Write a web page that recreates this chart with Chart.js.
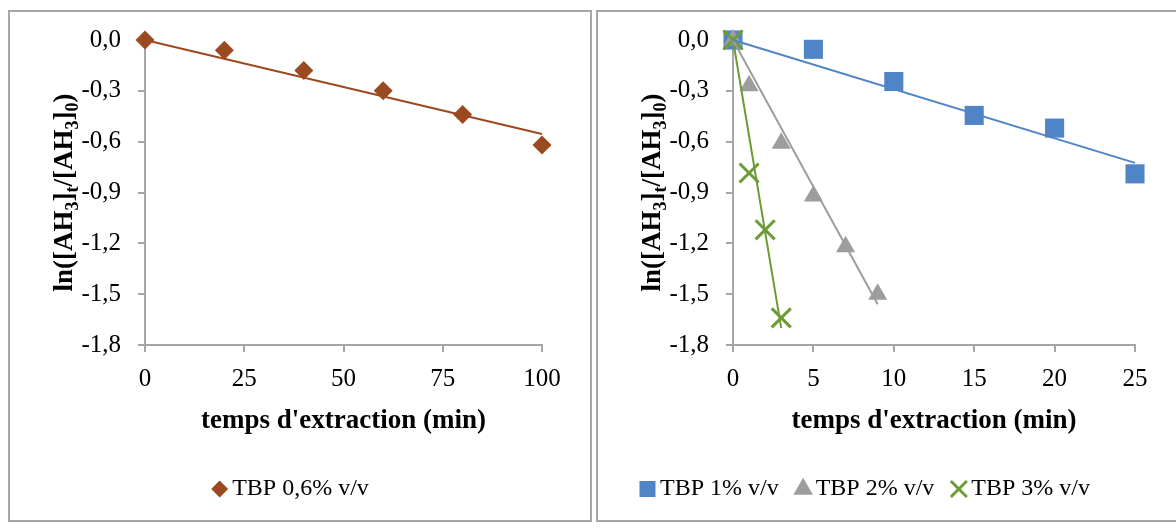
<!DOCTYPE html>
<html>
<head>
<meta charset="utf-8">
<script src="https://cdn.jsdelivr.net/npm/chart.js@4.4.1/dist/chart.umd.min.js"></script>
<style>
  body { margin: 0; background: #fff; }
  .panel { position: absolute; top: 10px; height: 508px; border: 2px solid #a6a6a6; background: #fff; }
  #panel-left { left: 8px; width: 580px; }
  #panel-right { left: 596px; width: 578px; }
</style>
</head>
<body>
<div class="panel" id="panel-left"><canvas id="chartLeft"></canvas></div>
<div class="panel" id="panel-right"><canvas id="chartRight"></canvas></div>
<script>
// TBP 0,6% v/v
const time06 = [0, 20, 40, 60, 80, 100]
const ln06 = [0, -0.06, -0.18, -0.30, -0.44, -0.62]
const trendTime06 = [0, 100]
const trendLn06 = [0, -0.555]

// TBP 1%, 2%, 3% v/v
const time1 = [0, 5, 10, 15, 20, 25]
const ln1 = [0, -0.055, -0.245, -0.445, -0.52, -0.79]
const trendTime1 = [0, 25]
const trendLn1 = [0, -0.725]

const time2 = [0, 1, 3, 5, 7, 9]
const ln2 = [0, -0.27, -0.61, -0.92, -1.22, -1.50]
const trendTime2 = [0, 9]
const trendLn2 = [0, -1.56]

const time3 = [0, 1, 2, 3]
const ln3 = [0, -0.785, -1.12, -1.64]
const trendTime3 = [0, 3]
const trendLn3 = [0, -1.70]

const labels = ['TBP 0,6% v/v', 'TBP 1% v/v', 'TBP 2% v/v', 'TBP 3% v/v']
const xTitle = "temps d'extraction (min)"
// [texte, indice?]
const yTitleParts = [['ln([AH', 0], ['3', 1], [']', 0], ['t', 1], ['/[AH', 0], ['3', 1], [']', 0], ['0', 1], [')', 0]]

const brown = '#9b4a20'
const blue = '#4f85c6'
const grey = '#9d9d9f'
const green = '#6f9a38'
const axisGrey = '#a6a6a6'
const serif = '"Liberation Serif", "Times New Roman", serif'

Chart.defaults.font.family = serif
Chart.defaults.color = '#000'

const pts = (xs, ys) => xs.map((x, i) => ({ x, y: ys[i] }))

// titre de l'axe Y avec indices
const yTitlePlugin = {
  id: 'yTitle',
  afterDraw(chart) {
    const { ctx, chartArea } = chart
    const big = 'bold 27px ' + serif
    const small = 'bold 18px ' + serif
    ctx.save()
    let total = 0
    yTitleParts.forEach(([t, sub]) => {
      ctx.font = sub ? small : big
      total += ctx.measureText(t).width
    })
    ctx.translate(53, (chartArea.top + chartArea.bottom) / 2)
    ctx.rotate(-Math.PI / 2)
    ctx.fillStyle = '#000'
    ctx.textBaseline = 'alphabetic'
    let x = -total / 2
    yTitleParts.forEach(([t, sub]) => {
      ctx.font = sub ? small : big
      ctx.fillText(t, x, sub ? 15 : 9)
      x += ctx.measureText(t).width
    })
    ctx.restore()
  }
}

// décale la légende horizontalement
const legendShift = {
  id: 'legendShift',
  afterLayout(chart, args, opts) {
    if (!chart.legend || !opts.dx) return
    chart.legend.left += opts.dx
    chart.legend.right += opts.dx
  }
}

function axes(xMax, xStep) {
  return {
    x: {
      type: 'linear',
      min: 0,
      max: xMax,
      afterFit: s => { s.height = 108 },
      ticks: { stepSize: xStep, padding: 12, font: { size: 25 }, color: '#000' },
      grid: { drawOnChartArea: false, tickLength: 7, color: axisGrey, lineWidth: 2 },
      border: { color: axisGrey, width: 2 },
      title: { display: true, text: xTitle, font: { size: 27, weight: 'bold' }, color: '#000', padding: { top: 0, bottom: 16 } }
    },
    y: {
      min: -1.8,
      max: 0,
      afterFit: s => {
        s.width = 135
        s.paddingTop = 0
        s.paddingBottom = 0
      },
      ticks: {
        stepSize: 0.3,
        padding: 17,
        font: { size: 25 },
        color: '#000',
        callback: v => (Math.round(v * 10) / 10).toFixed(1).replace('.', ',')
      },
      grid: { drawOnChartArea: false, tickLength: 7, color: axisGrey, lineWidth: 2 },
      border: { color: axisGrey, width: 2 }
    }
  }
}

function baseOptions(padRight, xMax, xStep, dx, markerBox) {
  return {
    responsive: true,
    maintainAspectRatio: false,
    animation: false,
    layout: { padding: { top: 28, right: padRight, bottom: 9, left: 0 } },
    scales: axes(xMax, xStep),
    plugins: {
      tooltip: { enabled: false },
      legendShift: { dx },
      legend: {
        position: 'bottom',
        labels: {
          usePointStyle: true,
          boxWidth: 1,
          boxHeight: markerBox,
          padding: 24,
          font: { size: 24 },
          color: '#000',
          sort: (a, b) => a.datasetIndex - b.datasetIndex,
          filter: (item, data) => !data.datasets[item.datasetIndex].trend
        }
      }
    }
  }
}

const trendLine = (xs, ys, color) => ({
  trend: true,
  label: '',
  data: pts(xs, ys),
  showLine: true,
  borderColor: color,
  borderWidth: 2,
  pointRadius: 0,
  pointHoverRadius: 0,
  clip: false,
  order: 0
})

new Chart(document.getElementById('chartLeft'), {
  type: 'scatter',
  data: {
    datasets: [
      {
        label: labels[0],
        data: pts(time06, ln06),
        pointStyle: 'rectRot',
        pointRadius: 9.5,
        backgroundColor: brown,
        borderColor: brown,
        borderWidth: 0,
        clip: false,
        order: 1
      },
      trendLine(trendTime06, trendLn06, brown)
    ]
  },
  options: baseOptions(48, 100, 25, 18, 12),
  plugins: [yTitlePlugin, legendShift]
})

new Chart(document.getElementById('chartRight'), {
  type: 'scatter',
  data: {
    datasets: [
      {
        label: labels[1],
        data: pts(time1, ln1),
        pointStyle: 'rect',
        pointRadius: 13.5,
        backgroundColor: blue,
        borderColor: blue,
        borderWidth: 0,
        clip: false,
        order: 3
      },
      {
        label: labels[2],
        data: pts(time2, ln2),
        pointStyle: 'triangle',
        pointRadius: 11,
        backgroundColor: grey,
        borderColor: grey,
        borderWidth: 0,
        clip: false,
        order: 2
      },
      {
        label: labels[3],
        data: pts(time3, ln3),
        pointStyle: 'crossRot',
        pointRadius: 13.5,
        backgroundColor: green,
        borderColor: green,
        borderWidth: 3,
        clip: false,
        order: 1
      },
      trendLine(trendTime1, trendLn1, blue),
      trendLine(trendTime2, trendLn2, grey),
      trendLine(trendTime3, trendLn3, green)
    ]
  },
  options: baseOptions(41, 25, 5, 2, 16),
  plugins: [yTitlePlugin, legendShift]
})
</script>
</body>
</html>
